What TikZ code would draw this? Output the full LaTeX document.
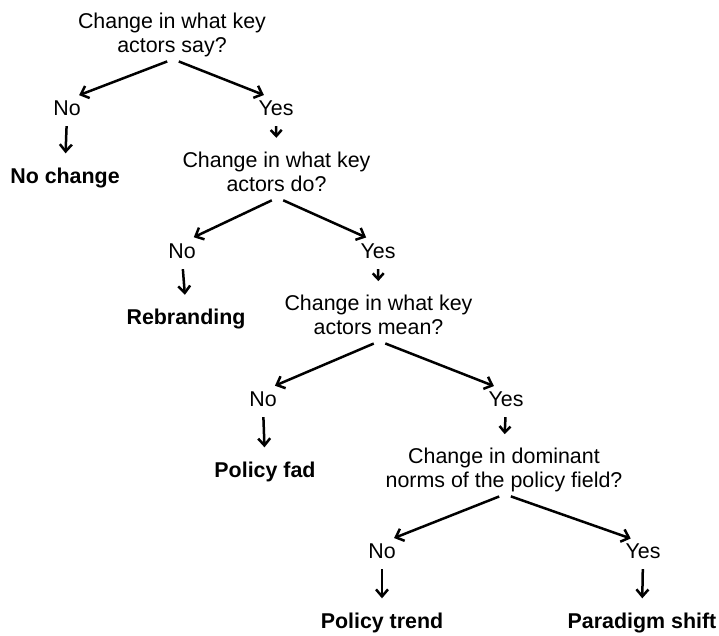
\documentclass[tikz,border=0pt]{standalone}
\usepackage{fontspec}
\setmainfont{Liberation Sans}
\usetikzlibrary{arrows.meta}
\tikzset{question/.style={
  anchor=north,
  align=center,
  inner sep=0pt,
  font=\fontsize{21.4}{24.5}\selectfont,
  },
  answer/.style={
  inner sep=0pt,
  text height=15pt,
  text depth=0pt,
  font=\fontsize{21.4}{24.5}\selectfont,
  },
  outcome/.style={
  answer,
  font=\fontsize{21.4}{24.5}\selectfont\bfseries,
  },
  fork/.style={
  line width=2.5pt,
  -{Straight Barb[length=7pt,width=13pt]},
  shorten <=3pt,
  shorten >=13pt,
  },
  drop/.style={
  line width=2.5pt,
  -{Straight Barb[length=7pt,width=12pt]},
  shorten <=11pt,
  shorten >=14.5pt,
  },
  link/.style={
  line width=2.5pt,
  -{Straight Barb[length=6pt,width=11pt]},
  shorten <=11pt,
  shorten >=13.5pt,
  },
}

\begin{document}
\begin{tikzpicture}[x=1pt,y=-1pt]
  \useasboundingbox (0,0) rectangle (719,635);
  % questions
  \node[question] (qsay)   at (172,12.6)  {Change in what key\\actors say?\strut};
  \node[question] (qdo)    at (276.5,151.3) {Change in what key\\actors do?\strut};
  \node[question] (qmean)  at (378.5,294.6) {Change in what key\\actors mean?\strut};
  \node[question] (qnorms) at (504,447.6) {Change in dominant\\norms of the policy field?\strut};
  % answers
  \node[answer] (nosay)    at (67,107.5)  {No};
  \node[answer] (yessay)   at (276,107.5) {Yes};
  \node[answer] (nodo)     at (182,250.5) {No};
  \node[answer] (yesdo)    at (378,250.5) {Yes};
  \node[answer] (nomean)   at (263,398.5) {No};
  \node[answer] (yesmean)  at (506,398.5) {Yes};
  \node[answer] (nonorms)  at (382,550.5) {No};
  \node[answer] (yesnorms) at (643,550.5) {Yes};
  % outcomes
  \node[outcome] (nochange) at (65,175.5)  {No change};
  \node[outcome] (rebrand)  at (186,317)   {Rebranding};
  \node[outcome] (fad)      at (265,469.5) {Policy fad};
  \node[outcome] (trend)    at (382,620.5) {Policy trend};
  \node[outcome] (shift)    at (642,620.5) {Paradigm shift};

  \draw[fork] ([xshift=-2pt]qsay.south) -- (nosay.north);
  \draw[fork] ([xshift=4pt]qsay.south) -- (yessay.north);
  \draw[drop] (nosay.south) -- (nochange.north);
  \draw[link] (yessay.south) -- (qdo.north);

  \draw[fork] ([xshift=-2pt]qdo.south) -- (nodo.north);
  \draw[fork] ([xshift=4pt]qdo.south) -- (yesdo.north);
  \draw[drop] (nodo.south) -- (rebrand.north);
  \draw[link] (yesdo.south) -- (qmean.north);

  \draw[fork] ([xshift=-2pt]qmean.south) -- (nomean.north);
  \draw[fork] ([xshift=4pt]qmean.south) -- (yesmean.north);
  \draw[drop] (nomean.south) -- (fad.north);
  \draw[link] (yesmean.south) -- (qnorms.north);

  \draw[fork] ([xshift=-2pt]qnorms.south) -- (nonorms.north);
  \draw[fork] ([xshift=4pt]qnorms.south) -- (yesnorms.north);
  \draw[drop] (nonorms.south) -- (trend.north);
  \draw[drop] (yesnorms.south) -- (shift.north);
\end{tikzpicture}
\end{document}
